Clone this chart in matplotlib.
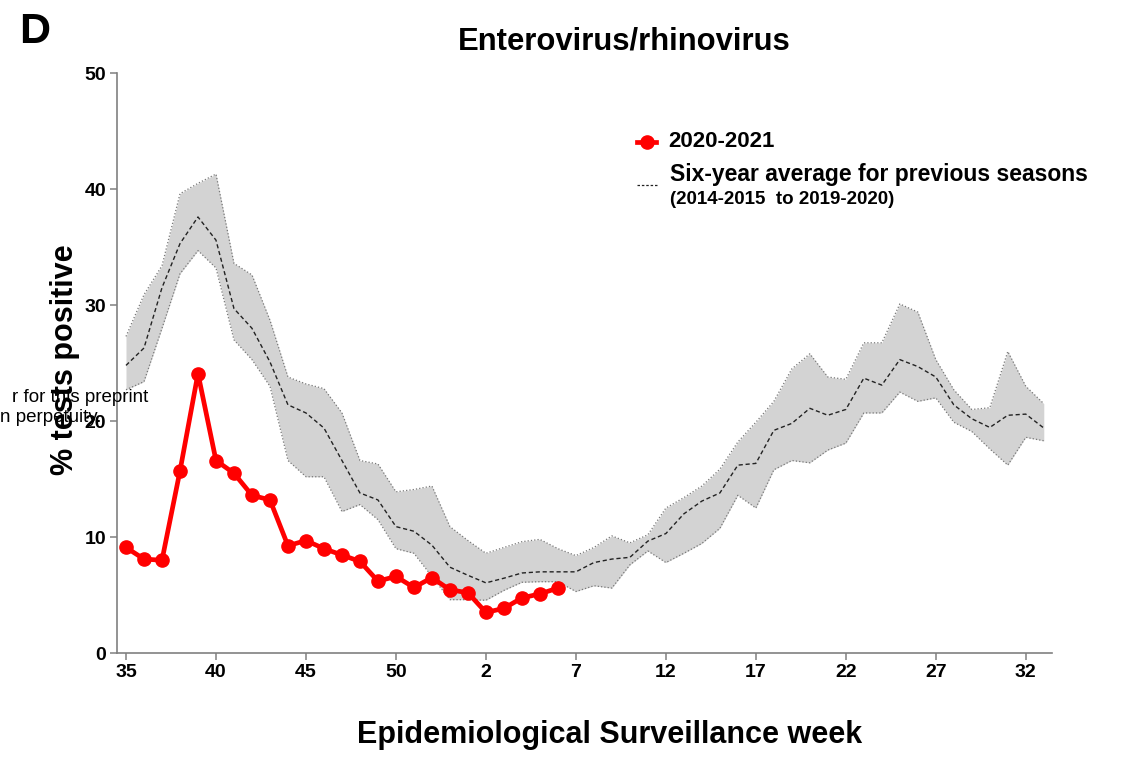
import numpy as np
import matplotlib
matplotlib.use("Agg")
import matplotlib.pyplot as plt

plt.rcParams['font.family'] = ['Liberation Sans', 'DejaVu Sans']

# epidemiological weeks: 35..53 of 2020, then 1..33 of 2021
weeks = list(range(35, 54)) + list(range(1, 34))

# 2020-2021 season (% positive), weeks 35 .. 6
season_2020 = [9.1, 8.1, 8.0, 15.7, 24.1, 16.6, 15.5, 13.6, 13.2, 9.25,
               9.7, 9.0, 8.45, 7.9, 6.2, 6.6, 5.65, 6.5, 5.45, 5.2,
               3.5, 3.85, 4.75, 5.1, 5.6]

# six-year average for previous seasons and its range
avg_mean = [24.8, 26.3, 31.5, 35.3, 37.6, 35.6, 29.7, 28.0, 25.1, 21.4,
            20.7, 19.4, 16.6, 13.8, 13.2, 10.9, 10.5, 9.3, 7.4, 6.7,
            6.05, 6.45, 6.9, 7.0, 7.0, 7.0, 7.8, 8.1, 8.25, 9.65,
            10.3, 12.0, 13.1, 13.8, 16.2, 16.35, 19.2, 19.8, 21.1, 20.5,
            21.0, 23.7, 23.1, 25.3, 24.7, 23.8, 21.4, 20.2, 19.45, 20.5,
            20.6, 19.4]
avg_upper = [27.3, 30.9, 33.4, 39.6, 40.5, 41.3, 33.6, 32.6, 28.7, 23.8,
             23.2, 22.8, 20.7, 16.6, 16.3, 13.9, 14.1, 14.4, 10.9, 9.7,
             8.6, 9.1, 9.6, 9.8, 9.0, 8.4, 9.1, 10.1, 9.5, 10.2,
             12.5, 13.4, 14.4, 15.85, 18.2, 19.9, 21.7, 24.5, 25.8, 23.8,
             23.6, 26.75, 26.75, 30.1, 29.4, 25.3, 22.7, 21.0, 21.15, 26.0,
             23.0, 21.5]
avg_lower = [22.7, 23.4, 28.0, 32.7, 34.7, 33.2, 27.0, 25.3, 23.0, 16.6,
             15.2, 15.2, 12.2, 12.8, 11.5, 9.0, 8.6, 6.6, 4.6, 4.6,
             4.55, 5.4, 6.1, 6.15, 6.15, 5.3, 5.8, 5.6, 7.6, 8.8,
             7.8, 8.6, 9.45, 10.75, 13.6, 12.5, 15.8, 16.6, 16.4, 17.5,
             18.1, 20.7, 20.7, 22.5, 21.7, 22.0, 19.9, 19.1, 17.6, 16.2,
             18.6, 18.3]

x = np.arange(len(weeks))
x_red = x[:len(season_2020)]

fig = plt.figure(figsize=(11.25, 7.58), dpi=100)
ax = fig.add_axes([0.104, 0.1385, 0.831, 0.765])

ax.fill_between(x, avg_lower, avg_upper, color='#d3d3d3', linewidth=0)
ax.plot(x, avg_upper, color='#777777', linestyle=':', linewidth=0.9)
ax.plot(x, avg_lower, color='#777777', linestyle=':', linewidth=0.9)
ax.plot(x, avg_mean, color='#222222', linestyle=(0, (3, 2)), linewidth=1.0)
ax.plot(x_red, season_2020, color='#ff0000', linewidth=3.4, marker='o',
        markersize=9.5, zorder=5)

ax.set_xlim(-0.5, 51.45)
ax.set_ylim(0, 50)
ax.set_xticks(x[::5])
ax.set_xticklabels([str(w) for w in weeks[::5]])
ax.set_yticks(range(0, 51, 10))

for s in ['top', 'right']:
    ax.spines[s].set_visible(False)
for s in ['left', 'bottom']:
    ax.spines[s].set_color('#808080')
    ax.spines[s].set_linewidth(1.2)
ax.tick_params(direction='out', length=5, width=1.1, color='#808080',
               labelsize=14, pad=3)
for lab in ax.get_xticklabels() + ax.get_yticklabels():
    lab.set_fontweight('bold')

ax.set_xlabel('Epidemiological Surveillance week', fontsize=22,
              fontweight='bold', labelpad=28)
ax.xaxis.label.set_x((610 - 117) / 935)
ax.set_ylabel('% tests positive', fontsize=22, fontweight='bold', labelpad=3)
ax.yaxis.label.set_y((653 - 360) / 580)

fig.text(624 / 1125, 1 - 42 / 758, 'Enterovirus/rhinovirus', fontsize=22.3,
         fontweight='bold', ha='center', va='center')
fig.text(19 / 1125, 1 - 32 / 758, 'D', fontsize=31, fontweight='bold',
         ha='left', va='center')

# watermark fragments at the left edge
fig.text(148 / 1125, 1 - 398 / 758, 'r for this preprint', fontsize=13.5,
         ha='right', va='center')
fig.text(0, 1 - 418 / 758, 'n perpetuity.', fontsize=13.5,
         ha='left', va='center')

# legend
ax.plot([0.556, 0.5665, 0.577], [0.882, 0.882, 0.882], transform=ax.transAxes,
        color='#ff0000', linewidth=3.4, marker='o', markersize=9.5,
        markevery=[1], clip_on=False)
ax.text(0.590, 0.882, '2020-2021', transform=ax.transAxes, fontsize=16,
        fontweight='bold', va='center')
ax.plot([0.556, 0.578], [0.807, 0.807], transform=ax.transAxes,
        color='#222222', linestyle=(0, (2, 1.5)), linewidth=0.9)
ax.text(0.591, 0.826, 'Six-year average for previous seasons',
        transform=ax.transAxes, fontsize=16.5, fontweight='bold', va='center')
ax.text(0.591, 0.782, '(2014-2015  to 2019-2020)', transform=ax.transAxes,
        fontsize=13.5, fontweight='bold', va='center')

fig.savefig('out.png', dpi=100)
